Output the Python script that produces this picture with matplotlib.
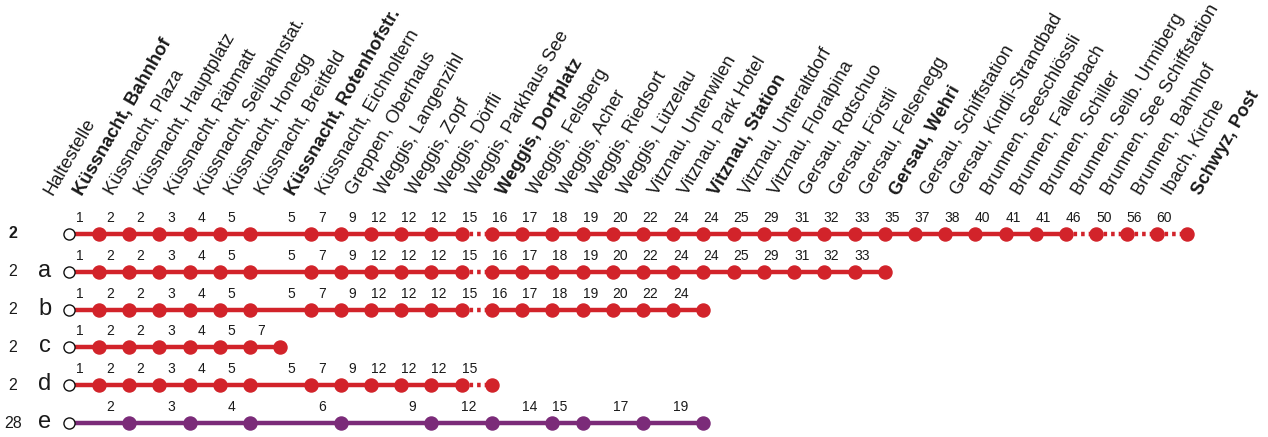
import matplotlib
matplotlib.use("Agg")
import matplotlib.pyplot as plt

plt.rcParams['font.family'] = ['Liberation Sans', 'DejaVu Sans']

# ---------------- data ----------------
header_label = "Haltestelle"
stations = [
    "Küssnacht, Bahnhof", "Küssnacht, Plaza", "Küssnacht, Hauptplatz", "Küssnacht, Räbmatt",
    "Küssnacht, Seilbahnstat.", "Küssnacht, Honegg", "Küssnacht, Breitfeld",
    "Küssnacht, Rotenhofstr.", "Küssnacht, Eichholtern", "Greppen, Oberhaus",
    "Weggis, Langenzihl", "Weggis, Zopf", "Weggis, Dörfli", "Weggis, Parkhaus See",
    "Weggis, Dorfplatz", "Weggis, Felsberg", "Weggis, Acher", "Weggis, Riedsort",
    "Weggis, Lützelau", "Vitznau, Unterwilen", "Vitznau, Park Hotel", "Vitznau, Station",
    "Vitznau, Unteraltdorf", "Vitznau, Floralpina", "Gersau, Rotschuo", "Gersau, Förstli",
    "Gersau, Felsenegg", "Gersau, Wehri", "Gersau, Schiffstation", "Gersau, Kindli-Strandbad",
    "Brunnen, Seeschlössli", "Brunnen, Fallenbach", "Brunnen, Schiller",
    "Brunnen, Seilb. Urmiberg", "Brunnen, See Schiffstation", "Brunnen, Bahnhof",
    "Ibach, Kirche", "Schwyz, Post",
]
bold_stations = ["Küssnacht, Bahnhof", "Küssnacht, Rotenhofstr.", "Weggis, Dorfplatz",
                 "Vitznau, Station", "Gersau, Wehri", "Schwyz, Post"]

route_numbers = ["2", "2", "2", "2", "2", "28"]
route_variants = ["", "a", "b", "c", "d", "e"]
route_bold = [True, False, False, False, False, False]
route_colors = ["#d2232a", "#d2232a", "#d2232a", "#d2232a", "#d2232a", "#7b2b79"]

# stop indices (into stations) served by each pattern
stops_2 = [0, 1, 2, 3, 4, 5, 6, 8, 9, 10, 11, 12, 13, 14, 15, 16, 17, 18, 19, 20, 21,
           22, 23, 24, 25, 26, 27, 28, 29, 30, 31, 32, 33, 34, 35, 36, 37]
stops_a = [0, 1, 2, 3, 4, 5, 6, 8, 9, 10, 11, 12, 13, 14, 15, 16, 17, 18, 19, 20, 21,
           22, 23, 24, 25, 26, 27]
stops_b = [0, 1, 2, 3, 4, 5, 6, 8, 9, 10, 11, 12, 13, 14, 15, 16, 17, 18, 19, 20, 21]
stops_c = [0, 1, 2, 3, 4, 5, 6, 7]
stops_d = [0, 1, 2, 3, 4, 5, 6, 8, 9, 10, 11, 12, 13, 14]
stops_e = [0, 2, 4, 6, 9, 12, 14, 16, 17, 19, 21]

# travel minutes shown above each served stop (after the origin)
times_2 = [1, 2, 2, 3, 4, 5, 5, 7, 9, 12, 12, 12, 15, 16, 17, 18, 19, 20, 22, 24, 24,
           25, 29, 31, 32, 33, 35, 37, 38, 40, 41, 41, 46, 50, 56, 60]
times_a = [1, 2, 2, 3, 4, 5, 5, 7, 9, 12, 12, 12, 15, 16, 17, 18, 19, 20, 22, 24, 24,
           25, 29, 31, 32, 33]
times_b = [1, 2, 2, 3, 4, 5, 5, 7, 9, 12, 12, 12, 15, 16, 17, 18, 19, 20, 22, 24]
times_c = [1, 2, 2, 3, 4, 5, 7]
times_d = [1, 2, 2, 3, 4, 5, 5, 7, 9, 12, 12, 12, 15]
times_e = [2, 3, 4, 6, 9, 12, 14, 15, 17, 19]

# segments (from-stop index) drawn dashed
dashed_2 = [13, 33, 34, 35, 36]
dashed_a = [13]
dashed_b = [13]
dashed_c = []
dashed_d = [13]
dashed_e = []

all_stops = [stops_2, stops_a, stops_b, stops_c, stops_d, stops_e]
all_times = [times_2, times_a, times_b, times_c, times_d, times_e]
all_dashed = [dashed_2, dashed_a, dashed_b, dashed_c, dashed_d, dashed_e]

# ---------------- layout ----------------
W, H, DPI = 1268, 437, 100
fig = plt.figure(figsize=(W / DPI, H / DPI), dpi=DPI)
ax = fig.add_axes([0, 0, 1, 1])
ax.axis("off")

x0_px, dx_px = 68.8, 30.22     # pixel position of station 0 and spacing
y0_px, dy_px = 234.0, 37.8     # pixel position of first row and spacing
ax.set_xlim(-x0_px / dx_px, (W - x0_px) / dx_px)
ax.set_ylim((H - y0_px) / dy_px, -y0_px / dy_px)

PT = 72.0 / DPI   # points per pixel
text_color = "#1a1a1a"
LW = 3.2
DOT = 9.4

# header (station names, rotated)
ANG = 60
hdr_y = (196 - y0_px) / dy_px
hdr_names = [header_label] + stations
for k, name in enumerate(hdr_names):
    i = k - 1
    ax.annotate(name, xy=(i, hdr_y), xytext=(14 * PT, 0), textcoords="offset points",
                rotation=ANG, rotation_mode="anchor", ha="left", va="baseline",
                fontsize=13.2, color=text_color,
                fontweight="bold" if name in bold_stations else "normal")

for r in range(len(all_stops)):
    stops = all_stops[r]
    times = all_times[r]
    dashed = all_dashed[r]
    col = route_colors[r]
    # row labels
    ax.annotate(route_numbers[r], xy=(0, r), xytext=(-56 * PT, 0), textcoords="offset points",
                ha="center", va="center", fontsize=11.5, color=text_color,
                fontweight="bold" if route_bold[r] else "normal")
    if route_variants[r]:
        ax.annotate(route_variants[r], xy=(0, r), xytext=(-24 * PT, 1 * PT),
                    textcoords="offset points", ha="center", va="center",
                    fontsize=17, color=text_color)
    # line segments
    for a, b in zip(stops[:-1], stops[1:]):
        if a in dashed:
            ln, = ax.plot([a, b], [r, r], color=col, lw=LW, solid_capstyle="butt",
                          dash_capstyle="butt", zorder=2)
            ln.set_dashes((0.8, 0.9))
        else:
            ax.plot([a, b], [r, r], color=col, lw=LW, solid_capstyle="butt", zorder=2)
    # origin (open circle)
    ax.plot([stops[0]], [r], marker="o", ms=8.0, mfc="white", mec="#111111", mew=1.0,
            zorder=4, linestyle="none")
    # served stops
    ax.plot(stops[1:], [r] * (len(stops) - 1), marker="o", ms=DOT, color=col,
            linestyle="none", zorder=3)
    # times
    for s, t in zip(stops[1:], times):
        ax.annotate(str(t), xy=(s, r), xytext=(-15 * PT, 16 * PT), textcoords="offset points",
                    ha="right", va="center", fontsize=10, color=text_color)

fig.savefig("out.png", dpi=DPI)
